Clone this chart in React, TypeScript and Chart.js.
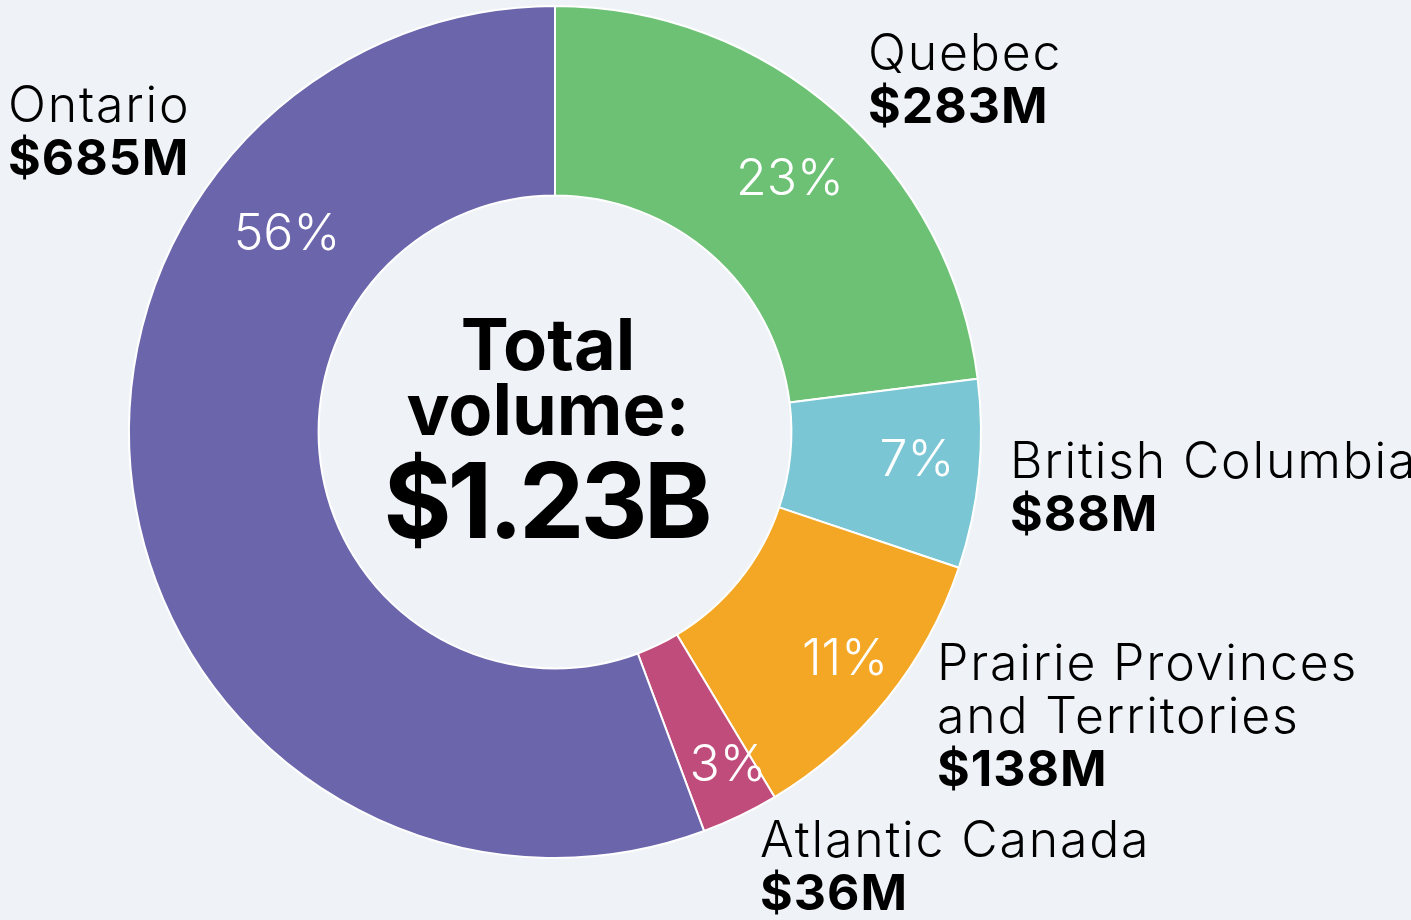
import React, { useEffect, useRef } from "react";
import { Chart, registerables } from "chart.js";

Chart.register(...registerables);

const regions = ["Quebec", "British Columbia", "Prairie Provinces and Territories", "Atlantic Canada", "Ontario"];
const regionLines = [["Quebec"], ["British Columbia"], ["Prairie Provinces", "and Territories"], ["Atlantic Canada"], ["Ontario"]];
const volumesM = [283, 88, 138, 36, 685];
const colors = ["#6cc175", "#7ac6d4", "#f4a724", "#c04c7b", "#6b65ac"];

const BG = "#eff3f7";
const FONT = "Inter, 'Open Sans', sans-serif";

// label anchor positions (left x, first baseline y) relative to page
const outerLabelPos = [
  [868, 70],
  [1010, 478],
  [937, 680],
  [760, 857],
  [8, 122],
];
// percent label centres relative to chart centre
const pctOffsets = [
  [235, -252],
  [362, 29],
  [290, 228],
  [173, 334],
  [-268, -197],
];

const labelsPlugin = {
  id: "labelsPlugin",
  afterDraw(chart: any) {
    const ctx = chart.ctx;
    const meta = chart.getDatasetMeta(0);
    const arc0 = meta.data[0];
    const cx = arc0.x;
    const cy = arc0.y;
    const total = volumesM.reduce((a, b) => a + b, 0);
    ctx.save();
    // percent labels
    ctx.fillStyle = "#ffffff";
    ctx.font = `300 50px ${FONT}`;
    ctx.textAlign = "center";
    ctx.textBaseline = "middle";
    (ctx as any).letterSpacing = "0px";
    volumesM.forEach((v, i) => {
      const pct = Math.round((v / total) * 100);
      ctx.fillText(`${pct}%`, cx + pctOffsets[i][0], cy + pctOffsets[i][1]);
    });
    // outer labels
    ctx.fillStyle = "#000000";
    ctx.textAlign = "left";
    ctx.textBaseline = "alphabetic";
    const lh = 53;
    regionLines.forEach((lines, i) => {
      const [x, y] = outerLabelPos[i];
      ctx.font = `300 50px ${FONT}`;
      (ctx as any).letterSpacing = "1.8px";
      lines.forEach((l, j) => ctx.fillText(l, x, y + j * lh));
      ctx.font = `700 50px ${FONT}`;
      (ctx as any).letterSpacing = "1px";
      ctx.fillText(`$${volumesM[i]}M`, x, y + lines.length * lh);
    });
    // centre text
    ctx.textAlign = "center";
    const tx = cx - 7;
    (ctx as any).letterSpacing = "0px";
    ctx.font = `700 72px ${FONT}`;
    ctx.fillText("Total", tx, 370);
    ctx.fillText("volume:", tx, 435);
    ctx.font = `700 104px ${FONT}`;
    (ctx as any).letterSpacing = "-4px";
    ctx.fillText(`$${(total / 1000).toFixed(2)}B`, tx - 2, 538);
    ctx.restore();
  },
};

export default function App() {
  const ref = useRef<HTMLCanvasElement | null>(null);
  useEffect(() => {
    document.body.style.margin = "0";
    const chart = new Chart(ref.current as HTMLCanvasElement, {
      type: "doughnut",
      data: {
        labels: regions,
        datasets: [
          {
            data: volumesM,
            backgroundColor: colors,
            borderColor: "#ffffff",
            borderWidth: 2,
            hoverOffset: 0,
          },
        ],
      },
      options: {
        responsive: false,
        animation: false,
        cutout: "55.5%",
        layout: { padding: { left: 128, right: 429, top: 5, bottom: 61 } },
        plugins: { legend: { display: false }, tooltip: { enabled: false } },
      },
      plugins: [labelsPlugin],
    });
    return () => chart.destroy();
  }, []);
  return (
    <div style={{ position: "fixed", left: 0, top: 0, width: 1411, height: 920, background: BG, overflow: "hidden" }}>
      <canvas ref={ref} width={1411} height={920} style={{ display: "block" }} />
    </div>
  );
}
